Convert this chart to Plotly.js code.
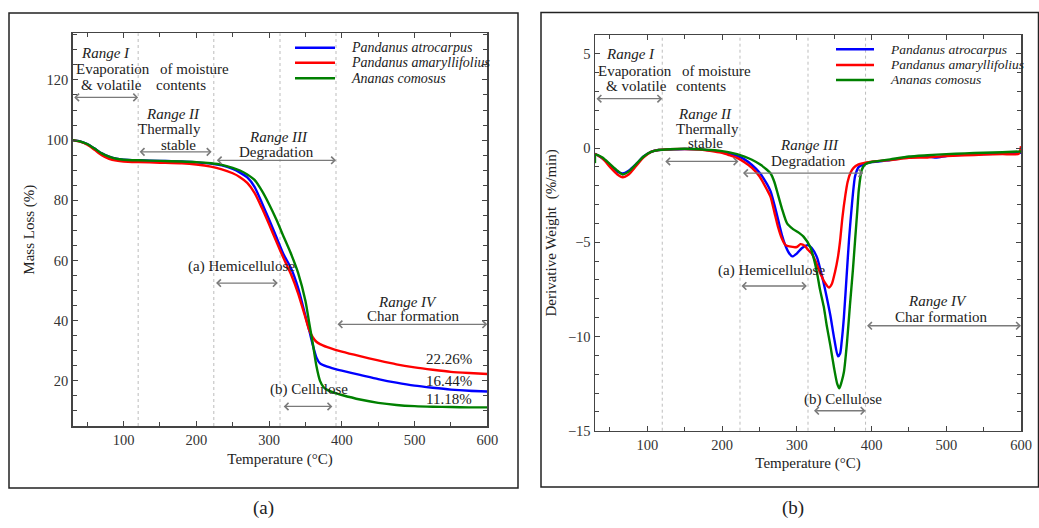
<!DOCTYPE html>
<html><head><meta charset="utf-8">
<script src="https://cdn.plot.ly/plotly-3.0.1.min.js"></script>
<style>html,body{margin:0;padding:0;background:#fff}</style>
</head><body><div id="chart" style="width:1039px;height:528px"></div>
<script>
// ---------- DATA ----------
const seriesNames = ["Pandanus atrocarpus", "Pandanus amaryllifolius", "Ananas comosus"];
const seriesColors = ["rgb(0,0,255)", "rgb(255,0,0)", "rgb(0,128,0)"];

// (a) TGA mass loss (%)
const tgaAtroX = [30,40,50,60,70,80,90,100,120,150,180,200,220,235,250,260,270,280,290,300,310,320,330,340,350,355,360,365,370,380,390,400,425,450,475,500,525,550,575,600];
const tgaAtroY = [100,99.6,98.7,97.2,95.6,94.5,93.8,93.5,93.3,93.1,92.9,92.6,92.2,91.6,90.4,89.2,87.6,84.5,79.2,73.6,67.8,62.0,57.5,50.8,41.5,37.0,32.0,27.8,25.8,24.7,24.0,23.4,22.0,20.6,19.4,18.4,17.7,17.1,16.7,16.44];
const tgaAmarX = [30,40,50,60,70,80,90,100,120,150,180,200,220,235,250,260,270,280,290,300,310,320,330,340,350,355,360,365,370,380,390,400,425,450,475,500,525,550,575,600];
const tgaAmarY = [100,99.5,98.5,96.8,95.0,93.8,93.2,92.9,92.7,92.5,92.3,91.9,91.2,90.3,89.0,87.7,85.8,82.5,77.5,72.0,66.3,60.7,55.5,49.0,41.0,37.0,34.5,33.0,32.2,31.2,30.4,29.7,28.2,26.8,25.5,24.5,23.7,23.0,22.6,22.26];
const tgaAnanX = [30,40,50,60,70,80,90,100,120,150,180,200,220,235,250,260,270,280,290,300,310,320,330,340,350,355,360,365,370,375,380,390,400,425,450,475,500,525,550,575,600];
const tgaAnanY = [100,99.6,98.7,97.2,95.6,94.5,93.8,93.5,93.3,93.1,92.9,92.7,92.3,91.8,90.8,89.9,88.6,86.8,83.2,78.7,73.6,67.9,62.3,55.8,46.5,39.5,32.5,25.0,20.0,17.9,17.0,16.0,15.3,13.8,12.7,12.0,11.6,11.4,11.3,11.2,11.18];

// (b) DTG derivative weight (%/min)
const dtgAtroX = [30,40,50,60,67,75,85,95,105,115,130,150,170,190,200,210,220,230,240,250,260,265,270,275,280,285,290,294,300,307,315,320,327,335,340,345,350,355,358,360,363,367,370,374,378,383,390,400,425,450,475,487,500,520,550,575,600];
const dtgAtroY = [-0.3,-0.55,-0.9,-1.25,-1.35,-1.2,-0.85,-0.45,-0.2,-0.1,-0.08,-0.05,-0.07,-0.15,-0.2,-0.3,-0.42,-0.6,-0.9,-1.3,-1.9,-2.3,-3.0,-3.8,-4.6,-5.2,-5.6,-5.75,-5.6,-5.3,-5.15,-5.3,-5.8,-7.0,-7.9,-8.9,-10.1,-11.05,-10.9,-10.3,-9.0,-6.6,-4.8,-2.9,-1.5,-1.0,-0.85,-0.75,-0.64,-0.48,-0.45,-0.5,-0.42,-0.36,-0.32,-0.28,-0.25];
const dtgAmarX = [30,40,50,60,67,75,85,95,105,115,130,150,170,190,200,210,220,230,240,250,260,265,270,275,280,285,290,300,305,311,315,320,325,331,337,343,347,351,355,358,361,365,368,372,376,382,393,400,425,450,475,500,525,550,575,597,600];
const dtgAmarY = [-0.3,-0.55,-1.0,-1.4,-1.55,-1.4,-0.95,-0.5,-0.2,-0.1,-0.06,-0.05,-0.08,-0.18,-0.25,-0.38,-0.52,-0.75,-1.05,-1.5,-2.2,-2.6,-3.4,-4.2,-4.8,-5.15,-5.22,-5.25,-5.1,-5.2,-5.4,-5.6,-6.0,-6.6,-7.1,-7.4,-7.2,-6.6,-5.8,-4.9,-3.7,-2.5,-1.8,-1.3,-1.05,-0.88,-0.76,-0.72,-0.64,-0.52,-0.5,-0.42,-0.38,-0.35,-0.32,-0.3,0.1];
const dtgAnanX = [30,31,40,50,60,67,75,85,95,105,115,130,150,170,190,200,210,220,230,240,250,260,265,270,275,280,287,295,303,309,318,323,327,331,336,340,345,350,354,357,360,363,367,371,375,378,381,383,387,392,400,425,450,475,500,525,550,575,600];
const dtgAnanY = [-0.8,-0.35,-0.5,-0.85,-1.2,-1.4,-1.25,-0.85,-0.45,-0.2,-0.1,-0.06,-0.04,-0.06,-0.12,-0.16,-0.23,-0.32,-0.45,-0.62,-0.85,-1.15,-1.35,-1.8,-2.5,-3.2,-4.0,-4.3,-4.5,-4.7,-5.25,-5.9,-6.6,-7.5,-8.4,-9.4,-10.5,-11.7,-12.5,-12.75,-12.4,-11.9,-10.4,-8.4,-6.5,-4.9,-3.3,-2.2,-1.15,-0.85,-0.74,-0.6,-0.45,-0.38,-0.32,-0.28,-0.25,-0.22,-0.18];

// Range boundaries (°C) and labels
const rangeBounds = [30, 120, 224, 315, 392, 600];
const residueLabels = ["22.26%", "16.44%", "11.18%"];

// ---------- STYLE ----------
const SERIF = "Liberation Serif, Times New Roman, serif";
const W = 1039, H = 528;
const px = v => v / W, py = v => 1 - v / H;

const tgaX = [tgaAtroX, tgaAmarX, tgaAnanX], tgaY = [tgaAtroY, tgaAmarY, tgaAnanY];
const dtgX = [dtgAtroX, dtgAmarX, dtgAnanX], dtgY = [dtgAtroY, dtgAmarY, dtgAnanY];

const traces = [];
for (let i = 0; i < 3; i++) {
  traces.push({x: tgaX[i], y: tgaY[i], type: 'scatter', mode: 'lines', name: seriesNames[i],
    line: {color: seriesColors[i], width: 2.4, shape: 'spline', smoothing: 0.6},
    xaxis: 'x', yaxis: 'y', showlegend: false});
}
for (let i = 0; i < 3; i++) {
  traces.push({x: dtgX[i], y: dtgY[i], type: 'scatter', mode: 'lines', name: seriesNames[i],
    line: {color: seriesColors[i], width: 2.4, shape: 'spline', smoothing: 0.6},
    xaxis: 'x2', yaxis: 'y2', showlegend: false});
}

const TICKFONT = {family: SERIF, size: 14.5, color: '#333'};
const TITLEFONT = {family: SERIF, size: 15, color: '#222'};
function axisBase(extra) {
  return Object.assign({
    showgrid: false, zeroline: false, showline: true, linecolor: '#444', linewidth: 1.5,
    mirror: 'ticks', ticks: 'inside', ticklen: 5, tickcolor: '#444', tickwidth: 1,
    tickfont: TICKFONT
  }, extra);
}

const annotations = [];
function txt(t, x, y, xr, yr, italic, size, xanchor) {
  annotations.push({text: italic ? '<i>' + t + '</i>' : t, x: x, y: y, xref: xr, yref: yr,
    xanchor: xanchor || 'center', yanchor: 'middle',
    showarrow: false, font: {family: SERIF, size: size || 15, color: '#222'}});
}
function arrow(x0, x1, y, xr, yr) {
  annotations.push({x: x1, y: y, ax: x0, ay: y, xref: xr, yref: yr, axref: xr, ayref: yr,
    text: '', showarrow: true, arrowside: 'end+start', arrowhead: 4, startarrowhead: 4,
    arrowsize: 1.1, startarrowsize: 1.1, arrowwidth: 1.3, arrowcolor: '#7a7a7a', standoff: 0, startstandoff: 0});
}

// Panel (a)
txt('Range I', 75, 128.9, 'x', 'y', true);
txt('Evaporation', 85, 123.6, 'x', 'y');
txt('&amp; volatile', 83.5, 118.3, 'x', 'y');
txt('of moisture', 197.5, 123.6, 'x', 'y');
txt('contents', 179, 118.3, 'x', 'y');
arrow(rangeBounds[0], rangeBounds[1], 114.2, 'x', 'y');
txt('Range II', 168, 108.8, 'x', 'y', true);
txt('Thermally', 163.5, 103.7, 'x', 'y');
txt('stable', 175, 98.5, 'x', 'y');
arrow(rangeBounds[1], 221, 96.1, 'x', 'y');
txt('Range III', 312.5, 101.2, 'x', 'y', true);
txt('Degradation', 310.5, 96.0, 'x', 'y');
arrow(226, rangeBounds[4], 93.3, 'x', 'y');
txt('(a) Hemicellulose', 262, 58.1, 'x', 'y');
arrow(225, 312, 52.5, 'x', 'y');
txt('(b) Cellulose', 355, 17.0, 'x', 'y');
arrow(318, 387, 11.5, 'x', 'y');
txt('Range IV', 490, 46.1, 'x', 'y', true);
txt('Char formation', 498.5, 41.5, 'x', 'y');
arrow(rangeBounds[4], rangeBounds[5], 38.8, 'x', 'y');
txt(residueLabels[0], 547.6, 27.3, 'x', 'y');
txt(residueLabels[1], 547.6, 20.1, 'x', 'y');
txt(residueLabels[2], 547.6, 14.0, 'x', 'y');

// Panel (b)
txt('Range I', 77, 5.0, 'x2', 'y2', true);
txt('Evaporation', 84, 4.1, 'x2', 'y2');
txt('&amp; volatile', 85.3, 3.27, 'x2', 'y2');
txt('of moisture', 193, 4.1, 'x2', 'y2');
txt('contents', 172, 3.27, 'x2', 'y2');
arrow(rangeBounds[0], rangeBounds[1], 2.62, 'x2', 'y2');
txt('Range II', 177.5, 1.82, 'x2', 'y2', true);
txt('Thermally', 180, 1.03, 'x2', 'y2');
txt('stable', 177.5, 0.28, 'x2', 'y2');
arrow(122, 222, -0.71, 'x2', 'y2');
txt('Range III', 317, 0.14, 'x2', 'y2', true);
txt('Degradation', 316, -0.68, 'x2', 'y2');
arrow(226, 389, -1.33, 'x2', 'y2');
txt('(a) Hemicellulose', 265.5, -6.52, 'x2', 'y2');
arrow(224, 313.5, -7.32, 'x2', 'y2');
txt('(b) Cellulose', 361.5, -13.32, 'x2', 'y2');
arrow(321, rangeBounds[4], -13.94, 'x2', 'y2');
txt('Range IV', 488.5, -8.1, 'x2', 'y2', true);
txt('Char formation', 493, -8.95, 'x2', 'y2');
arrow(rangeBounds[4], rangeBounds[5], -9.43, 'x2', 'y2');

// Panel labels
txt('(a)', px(263), py(508), 'paper', 'paper', false, 19);
txt('(b)', px(793), py(508), 'paper', 'paper', false, 19);

const shapes = [];
[1, 2, 3, 4].forEach(k => {
  ['x', 'x2'].forEach(xr => {
    shapes.push({type: 'line', xref: xr, yref: (xr === 'x' ? 'y domain' : 'y2 domain'),
      x0: rangeBounds[k], x1: rangeBounds[k], y0: 0, y1: 1,
      line: {color: '#bdbdbd', width: 1, dash: 'dot'}, layer: 'below'});
  });
});
shapes.push({type: 'rect', xref: 'paper', yref: 'paper', x0: px(9), x1: px(518), y0: py(488), y1: py(13),
  line: {color: '#222', width: 1.5}});
shapes.push({type: 'rect', xref: 'paper', yref: 'paper', x0: px(541), x1: px(1038.5), y0: py(487), y1: py(12.5),
  line: {color: '#222', width: 1.5}});

// Legends (one per panel): sample line + italic series name
const legendBoxes = [
  {lineX0: 295, lineX1: 335, textX: 349, rows: [47.7, 62.7, 78.3], size: 14},
  {lineX0: 836, lineX1: 874, textX: 888, rows: [49.3, 65, 80], size: 13.5}
];
legendBoxes.forEach(lb => {
  for (let i = 0; i < 3; i++) {
    shapes.push({type: 'line', xref: 'paper', yref: 'paper', x0: px(lb.lineX0), x1: px(lb.lineX1),
      y0: py(lb.rows[i]), y1: py(lb.rows[i]), line: {color: seriesColors[i], width: 2.6}});
    txt(seriesNames[i], px(lb.textX), py(lb.rows[i]), 'paper', 'paper', true, lb.size, 'left');
  }
});

const layout = {
  width: W, height: H, margin: {l: 0, r: 0, t: 0, b: 0},
  paper_bgcolor: '#fff', plot_bgcolor: '#fff', showlegend: false,
  xaxis: axisBase({domain: [px(72.7), px(487.3)], range: [30, 600], dtick: 100, tick0: 0,
    minor: {dtick: 50, ticks: 'inside', ticklen: 4, tickcolor: '#444', showgrid: false},
    title: {text: 'Temperature (°C)', font: TITLEFONT, standoff: 6}, anchor: 'y'}),
  yaxis: axisBase({domain: [py(426), py(33.3)], range: [5, 135.5], dtick: 20, tick0: 0,
    minor: {dtick: 5, ticks: 'inside', ticklen: 4, tickcolor: '#444', showgrid: false},
    title: {text: 'Mass Loss (%)', font: TITLEFONT, standoff: 8}, anchor: 'x'}),
  xaxis2: axisBase({domain: [px(595), px(1021)], range: [30, 600], dtick: 100, tick0: 0,
    minor: {dtick: 50, ticks: 'inside', ticklen: 4, tickcolor: '#444', showgrid: false},
    title: {text: 'Temperature (°C)', font: TITLEFONT, standoff: 6}, anchor: 'y2'}),
  yaxis2: axisBase({domain: [py(430.7), py(35)], range: [-15, 6], dtick: 5, tick0: 0,
    minor: {dtick: 1, ticks: 'inside', ticklen: 4, tickcolor: '#444', showgrid: false},
    title: {text: 'Derivative Weight  (%/min)', font: TITLEFONT, standoff: 7}, anchor: 'x2'}),
  annotations: annotations, shapes: shapes
};

Plotly.newPlot('chart', traces, layout, {staticPlot: true, displayModeBar: false});
</script></body></html>
